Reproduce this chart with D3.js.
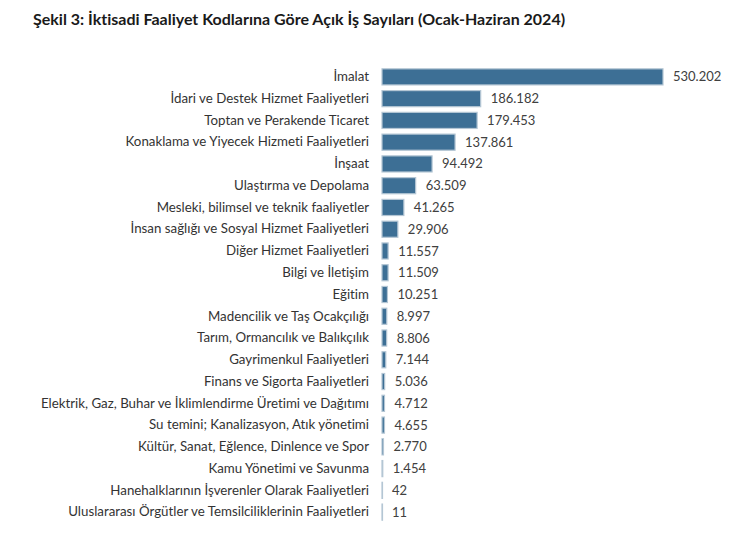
<!DOCTYPE html>
<html><head><meta charset="utf-8">
<script src="https://cdn.jsdelivr.net/npm/d3@7"></script>
<style>body{margin:0;background:#fff;} text{font-family:Lato,"Open Sans",sans-serif;font-variant-ligatures:none;}</style>
</head><body>
<svg id="c" width="750" height="537"></svg>
<script>
const categories = ["İmalat","İdari ve Destek Hizmet Faaliyetleri","Toptan ve Perakende Ticaret","Konaklama ve Yiyecek Hizmeti Faaliyetleri","İnşaat","Ulaştırma ve Depolama","Mesleki, bilimsel ve teknik faaliyetler","İnsan sağlığı ve Sosyal Hizmet Faaliyetleri","Diğer Hizmet Faaliyetleri","Bilgi ve İletişim","Eğitim","Madencilik ve Taş Ocakçılığı","Tarım, Ormancılık ve Balıkçılık","Gayrimenkul Faaliyetleri","Finans ve Sigorta Faaliyetleri","Elektrik, Gaz, Buhar ve İklimlendirme Üretimi ve Dağıtımı","Su temini; Kanalizasyon, Atık yönetimi","Kültür, Sanat, Eğlence, Dinlence ve Spor","Kamu Yönetimi ve Savunma","Hanehalklarının İşverenler Olarak Faaliyetleri","Uluslararası Örgütler ve Temsilciliklerinin Faaliyetleri"];
const values = [530202,186182,179453,137861,94492,63509,41265,29906,11557,11509,10251,8997,8806,7144,5036,4712,4655,2770,1454,42,11];
const title = "Şekil 3: İktisadi Faaliyet Kodlarına Göre Açık İş Sayıları (Ocak-Haziran 2024)";

const svg = d3.select("#c");
const x0 = 382, x1 = 663;
const x = d3.scaleLinear().domain([0, 530202]).range([x0, x1]);
const y = d3.scaleBand().domain(categories).range([66, 523]).paddingInner(0.26).paddingOuter(0.13);
const fmt = v => d3.format(",")(v).replace(/,/g, ".");

svg.append("text").attr("x", 33).attr("y", 25).attr("font-size", 16).attr("font-weight", "bold")
  .attr("fill", "#1a1a1a").text(title);

const g = svg.append("g");
g.selectAll("rect").data(values).join("rect")
  .attr("x", x(0)).attr("y", (d,i) => y(categories[i]))
  .attr("width", d => Math.max(x(d) - x(0), 0.5)).attr("height", y.bandwidth())
  .attr("fill", "#3d6f95").attr("stroke", "#b4c6d4").attr("stroke-width", 1.2);

const yAxis = d3.axisLeft(y).tickSize(0).tickPadding(13);
const ax = svg.append("g").attr("transform", `translate(${x0},0)`).call(yAxis);
ax.select(".domain").remove();
ax.selectAll("text").attr("font-size", 13.3).attr("fill", "#333").style("font-family", "Lato,'Open Sans',sans-serif");

g.selectAll("text.v").data(values).join("text").attr("class","v")
  .attr("x", d => x(d) + 10).attr("y", (d,i) => y(categories[i]) + y.bandwidth()/2)
  .attr("dy", "0.35em").attr("font-size", 13).attr("fill", "#404040").text(d => fmt(d));
</script>
</body></html>
